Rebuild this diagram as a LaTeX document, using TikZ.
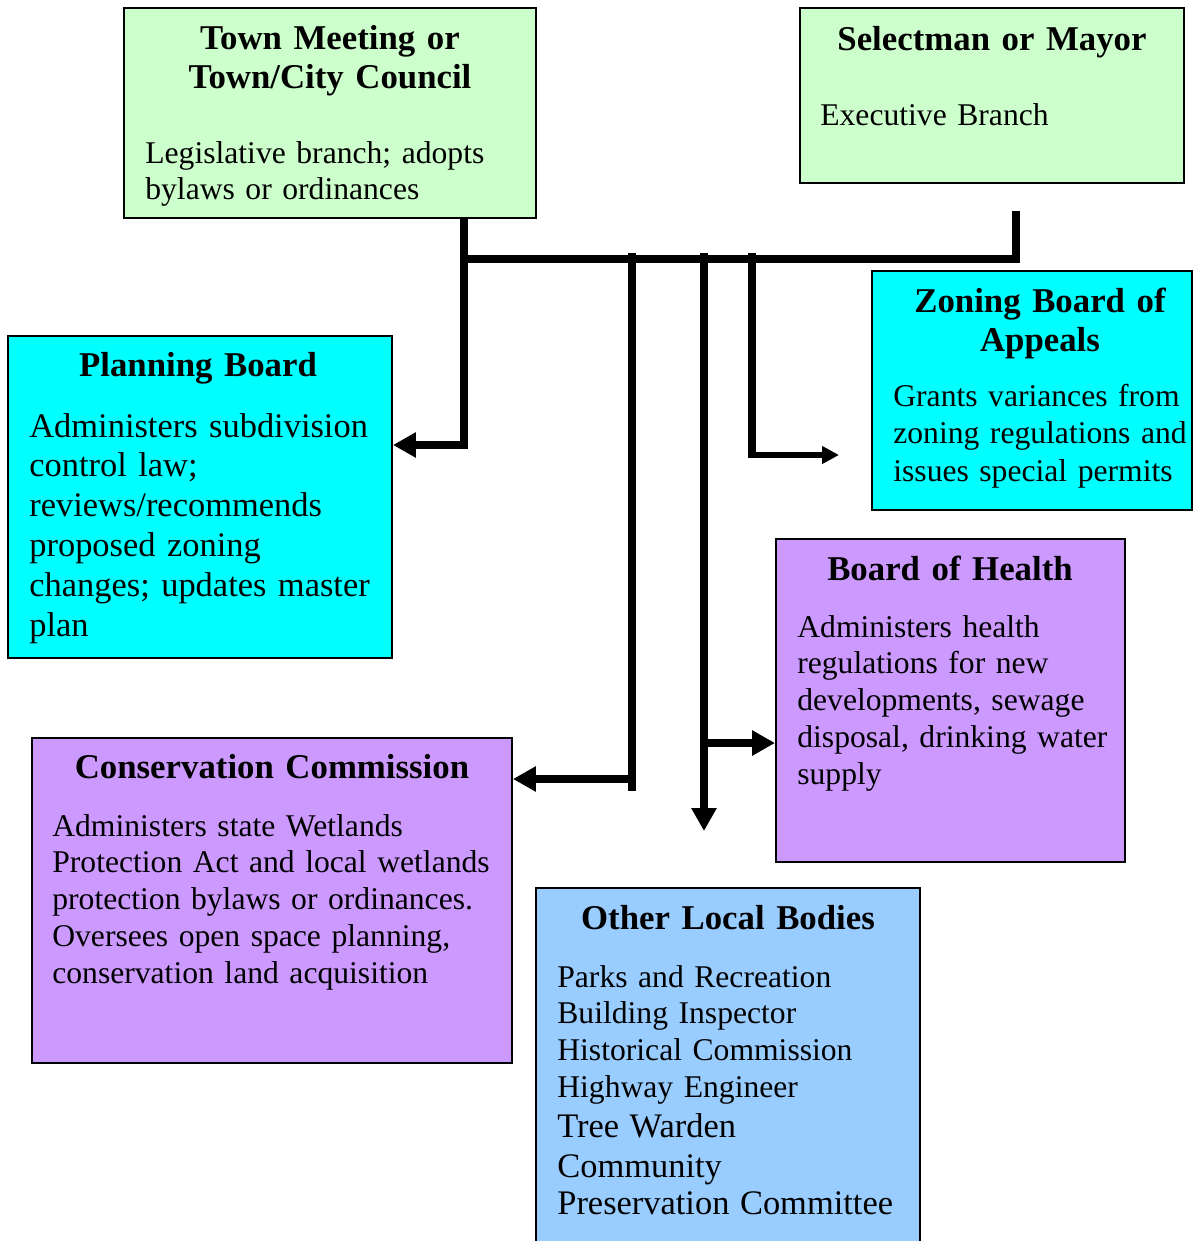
\documentclass[tikz,border=0pt]{standalone}
\usepackage{fontspec}
\setmainfont{Liberation Serif}
\usepackage{tikz}
\usetikzlibrary{calc,positioning,arrows.meta,fit}
\definecolor{townGreen}{HTML}{CCFFCC}
\definecolor{boardCyan}{HTML}{00FFFF}
\definecolor{boardViolet}{HTML}{CC99FF}
\definecolor{boardBlue}{HTML}{99CCFF}
\tikzstyle{office}    = [draw=black, line width=1.1pt, inner sep=0pt]
\tikzstyle{head}      = [anchor=base, inner sep=0pt, text width=12cm, align=center,
                         font=\bfseries\fontsize{19.8}{22.2}\selectfont]
\tikzstyle{body}      = [anchor=base west, inner sep=0pt, text width=10cm, align=left,
                         font=\fontsize{18}{21}\selectfont]
\tikzstyle{link}      = [line width=4pt]
\tikzstyle{arrow}     = [line width=4pt, -{Triangle[length=4.6mm, width=4.8mm]}]
\tikzstyle{thinarrow} = [line width=3pt, -{Triangle[length=3.4mm, width=3.4mm]}]

\begin{document}
\begin{tikzpicture}[x=0.02cm, y=-0.02cm]
		\useasboundingbox (0,0) rectangle (1194,1241);

		% the offices
		\node[office, fill=townGreen,   fit={(124,8) (536,218)}]    (town) {};
		\node[office, fill=townGreen,   fit={(800,8) (1184,183)}]   (sel)  {};
		\node[office, fill=boardCyan,   fit={(872,271) (1192,510)}] (zba)  {};
		\node[office, fill=boardCyan,   fit={(8,336) (392,658)}]    (pb)   {};
		\node[office, fill=boardViolet, fit={(776,539) (1125,862)}] (boh)  {};
		\node[office, fill=boardViolet, fit={(32,738) (512,1063)}]  (con)  {};
		\node[office, fill=boardBlue,   fit={(536,888) (920,1270)}] (olb)  {};

		\node[head] (townHead) at (330,49) {Town Meeting or\\Town/City Council};
		\node[body] (townBody) at (145,163) {Legislative branch; adopts\\bylaws or ordinances};

		\node[head] (selHead) at (992,50) {Selectman or Mayor};
		\node[body] (selBody) at (820,125) {Executive Branch};

		\node[head] (zbaHead) at (1040,312) {Zoning Board of\\Appeals};
		\node[body, font=\fontsize{18}{21.6}\selectfont] (zbaBody) at (893,406)
			{Grants variances from\\zoning regulations and\\issues special permits};

		\node[head] (pbHead) at (198,376) {Planning Board};
		\node[body, font=\fontsize{19.6}{22.7}\selectfont] (pbBody) at (29,437)
			{Administers subdivision\\control law;\\reviews/recommends\\proposed zoning\\changes; updates master\\plan};

		\node[head] (bohHead) at (950,580) {Board of Health};
		\node[body] (bohBody) at (797,637)
			{Administers health\\regulations for new\\developments, sewage\\disposal, drinking water\\supply};

		\node[head] (conHead) at (272,778) {Conservation Commission};
		\node[body] (conBody) at (52,836)
			{Administers state Wetlands\\Protection Act and local wetlands\\protection bylaws or ordinances.\\Oversees open space planning,\\conservation land acquisition};

		\node[head] (olbHead) at (728,929) {Other Local Bodies};
		\node[body] (olbBody) at (557,987)
			{Parks and Recreation\\Building Inspector\\Historical Commission\\Highway Engineer\par
			\fontsize{19.6}{22.7}\selectfont Tree Warden\\Community\\Preservation Committee};

		% the lines between them
		\coordinate (busL)     at (464,259);
		\coordinate (busR)     at (1016,259);
		\coordinate (selFoot)  at (1016,215);
		\coordinate (dropCon)  at (632,253);
		\coordinate (dropDown) at (704,253);
		\coordinate (dropZba)  at (752,253);
		\coordinate (downTip)  at (704,831);
		\coordinate (zbaTip)   at (839,455);

		\draw[arrow] (town.south -| busL) -- (busL |- 0,445) -- (pb.east |- 0,445);
		\draw[link, line cap=rect] (busL) -- (busR);
		\draw[link, line cap=rect] (selFoot) -- (busR);
		\draw[link] (dropCon) -- (dropCon |- 0,791);
		\draw[arrow] (dropCon |- 0,779) -- (con.east |- 0,779);
		\draw[arrow] (dropDown) -- (downTip);
		\draw[arrow] (dropDown |- 0,743) -- (boh.west |- 0,743);
		\draw[link] (dropZba) -- (dropZba |- 0,458);
		\draw[thinarrow] (dropZba |- zbaTip) -- (zbaTip);
	\end{tikzpicture}
\end{document}
